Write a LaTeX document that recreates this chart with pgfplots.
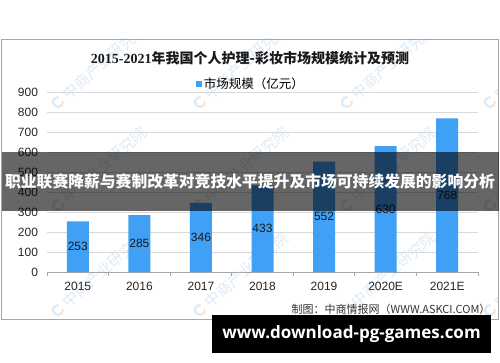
\documentclass[border=0pt]{standalone}
\usepackage{fontspec}
\setmainfont{Liberation Sans}
\newfontfamily\cjk{Noto Sans CJK SC}
\newfontfamily\serifnum{Liberation Serif}
\newfontfamily\urlfont{Open Sans}
\usepackage{pgfplots}
\pgfplotsset{compat=1.18}
\usepackage{pgfplotstable}
\usetikzlibrary{calc}
\definecolor{barblue}{HTML}{3FA0F5}
\definecolor{gridgray}{HTML}{D9D9D9}
\definecolor{axisgray}{HTML}{A6A6A6}
\definecolor{wm}{HTML}{DDEBF8}
\definecolor{wmor}{HTML}{FAE4D6}
\pgfplotstableread{
x y
0 253
1 285
2 346
3 433
4 552
5 630
6 768
}\datatable
\begin{document}
\begin{tikzpicture}[x=1pt,y=1pt]
\path[use as bounding box, fill=white] (0,0) rectangle (500,362);
% watermarks
\begin{scope}
\clip (1,43) rectangle (498,323);
\foreach \px in {58,200,347,490}{
  \foreach \py in {260,157,52}{
    \draw[wm, line width=2.2pt] (\px,\py) ++(80:5) arc (80:280:5);
    \draw[wmor, line width=2.2pt] (\px,\py) ++(-80:5) arc (-80:10:5);
    \node[wm, font=\cjk\fontsize{15}{15}\selectfont, rotate=41, anchor=west, inner sep=0pt] at ($(\px,\py)+(41:9)$) {中商产业研究院};
  }
}
\end{scope}
\draw[axisgray, line width=0.8pt] (1,43) rectangle (498,323);
\node[font=\fontsize{14}{14}\selectfont, black!90] at (250,304) {{\serifnum\bfseries 2015-2021}{\cjk\bfseries 年我国个人护理-彩妆市场规模统计及预测}};
\begin{axis}[
  at={(47pt,90pt)}, anchor=south west,
  scale only axis, width=431pt, height=180pt,
  xmin=-0.5, xmax=6.5, ymin=0, ymax=900,
  ytick={0,100,...,900},
  xtick={-0.5,0.5,1.5,2.5,3.5,4.5,5.5,6.5},
  xticklabels={2015,2016,2017,2018,2019,2020E,2021E},
  x tick label as interval,
  axis x line*=bottom, axis y line*=left,
  y axis line style={draw=none},
  x axis line style={axisgray, line width=0.8pt, -},
  tick align=outside, major tick length=4pt,
  xtick style={axisgray, line width=0.8pt},
  ytick style={draw=none},
  ymajorgrids, grid style={gridgray, line width=0.8pt},
  ticklabel style={font=\fontsize{12}{12}\selectfont, color=black!85},
  yticklabel style={xshift=-1.5pt},
  xticklabel style={yshift=-3pt},
  /pgf/number format/assume math mode=true,
  legend style={at={(0.473,1.0444)}, anchor=center, draw=none, fill=none,
    font=\cjk\fontsize{12.5}{13}\selectfont, legend cell align=left},
  legend image code/.code={\fill[barblue] (0pt,-3pt) rectangle (6pt,3pt);},
]
\addplot[ybar, bar width=22pt, fill=barblue, draw=none] table[x=x,y=y]{\datatable};
\addlegendentry{市场规模（亿元）}
\addplot[draw=none, mark=none, forget plot, nodes near coords, point meta=explicit,
  every node near coord/.style={anchor=center, font=\fontsize{12}{12}\selectfont, black!90}]
  table[x=x, y expr=\thisrow{y}/2, meta=y]{\datatable};
\end{axis}
\fill[black, opacity=0.6] (1.5,151) rectangle (498.5,210);
\node[white, font=\cjk\bfseries\fontsize{15.8}{16}\selectfont, inner sep=0pt] at (250,181) {职业联赛降薪与赛制改革对竞技水平提升及市场可持续发展的影响分析};
\node[anchor=east, font=\cjk\fontsize{11}{11}\selectfont, black!80] at (494,53) {制图：中商情报网（WWW.ASKCI.COM）};
\fill[black] (212,9) rectangle (491,47);
\node[white, font=\urlfont\bfseries\fontsize{17}{17}\selectfont] at (351.5,28) {www.download-pg-games.com};
\end{tikzpicture}
\end{document}
